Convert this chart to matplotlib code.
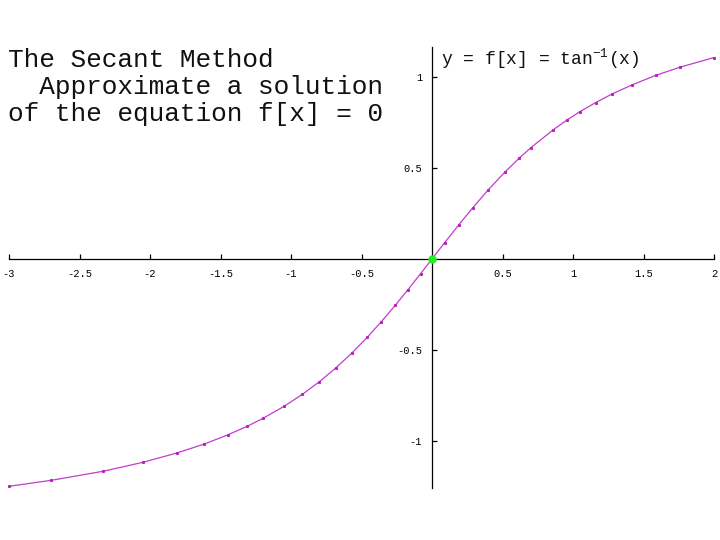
import matplotlib
matplotlib.use("Agg")
import matplotlib.pyplot as plt

# sample points of y = arctan(x)
xs = [-3.0, -2.70, -2.33, -2.05, -1.81, -1.62, -1.45, -1.31, -1.20, -1.05,
      -0.92, -0.80, -0.68, -0.57, -0.46, -0.36, -0.26, -0.17, -0.08, 0.0,
      0.09, 0.19, 0.29, 0.40, 0.52, 0.62, 0.70, 0.86, 0.96, 1.05,
      1.16, 1.28, 1.42, 1.59, 1.76, 2.0]
ys = [-1.249, -1.216, -1.166, -1.117, -1.066, -1.018, -0.967, -0.919, -0.876, -0.810,
      -0.744, -0.675, -0.597, -0.518, -0.431, -0.345, -0.254, -0.168, -0.080, 0.0,
      0.090, 0.188, 0.282, 0.381, 0.480, 0.555, 0.611, 0.710, 0.765, 0.810,
      0.859, 0.908, 0.957, 1.010, 1.054, 1.107]

root_x = [0.0]
root_y = [0.0]

xticks = [-3, -2.5, -2, -1.5, -1, -0.5, 0.5, 1, 1.5, 2]
xtick_labels = ["-3", "-2.5", "-2", "-1.5", "-1", "-0.5", "0.5", "1", "1.5", "2"]
yticks = [-1, -0.5, 0.5, 1]
ytick_labels = ["-1", "-0.5", "0.5", "1"]

title_lines = ["The Secant Method", "  Approximate a solution", "of the equation f[x] = 0"]
func_label = r"y = f[x] = tan$^{-1}$(x)"

mono = "Liberation Mono"
plt.rcParams['mathtext.fontset'] = 'custom'
plt.rcParams['mathtext.rm'] = mono
plt.rcParams['mathtext.it'] = mono
plt.rcParams['mathtext.default'] = 'rm'

fig = plt.figure(figsize=(7.2, 5.4), dpi=100)
ax = fig.add_axes([0, 0, 1, 1])
ax.set_xlim(-432 / 141.0, (720 - 432) / 141.0)
ax.set_ylim(-(540 - 259) / 182.0, 259 / 182.0)

ax.plot(xs, ys, "-", color="#c23ccc", lw=0.9, marker="s", ms=1.2,
        mec="#b424bc", mfc="#b424bc", zorder=3)
ax.plot(root_x, root_y, "o", color="#22ee22", ms=5, zorder=4)

for s in ("top", "right"):
    ax.spines[s].set_visible(False)
ax.spines["left"].set_position(("data", 0))
ax.spines["bottom"].set_position(("data", 0))
ax.spines["left"].set_bounds(-1.258, 1.165)
ax.spines["bottom"].set_bounds(-3, 2)
for s in ("left", "bottom"):
    ax.spines[s].set_linewidth(0.9)
    ax.spines[s].set_color("black")

ax.set_xticks(xticks)
ax.set_xticklabels(xtick_labels, fontfamily=mono, fontsize=7.5)
ax.set_yticks(yticks)
ax.set_yticklabels(ytick_labels, fontfamily=mono, fontsize=7.5)
ax.tick_params(direction="in", length=3.5, width=0.9, pad=7)
ax.patch.set_alpha(0)

baselines = [67, 94, 121]
for line, b in zip(title_lines, baselines):
    fig.text(8 / 720, 1 - b / 540, line, fontfamily=mono, fontsize=18.8,
             ha="left", va="baseline", color="#111111")

fig.text(441 / 720, 1 - 64 / 540, func_label, fontfamily=mono, fontsize=13,
         ha="left", va="baseline", color="#111111")

fig.savefig("out.png", dpi=100)
